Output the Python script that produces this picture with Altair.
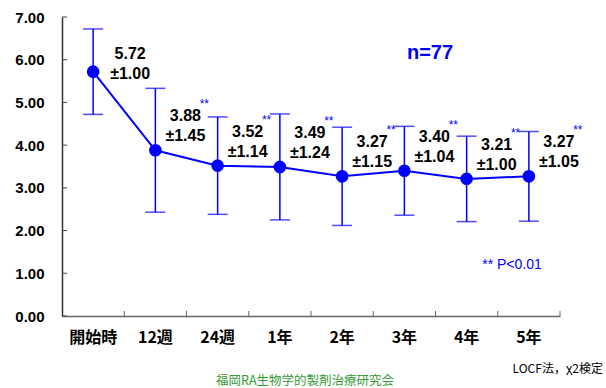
import altair as alt
import pandas as pd

categories = ["開始時", "12週", "24週", "1年", "2年", "3年", "4年", "5年"]
means = [5.72, 3.88, 3.52, 3.49, 3.27, 3.40, 3.21, 3.27]
sds = [1.00, 1.45, 1.14, 1.24, 1.15, 1.04, 1.00, 1.05]
significant = [False, True, True, True, True, True, True, True]
y_ticks = [0, 1, 2, 3, 4, 5, 6, 7]

df = pd.DataFrame({
    "cat": categories,
    "mean": means,
    "sd": sds,
    "sig": significant,
    "idx": list(range(len(categories))),
})
df["lo"] = df["mean"] - df["sd"]
df["hi"] = df["mean"] + df["sd"]
df["l1"] = df["mean"].map(lambda v: f"{v:.2f}")
df["l2"] = df["sd"].map(lambda v: f"±{v:.2f}")

BLUE = "#0000ff"
W, H = 498, 299
JP = "Noto Sans CJK JP"
NUM = "Liberation Sans"

x = alt.X("cat:N", sort=categories, scale=alt.Scale(paddingInner=0, paddingOuter=0),
          axis=alt.Axis(title=None, labelAngle=0, labelFont=JP, labelFontWeight="bold",
                        labelFontSize=16, labelColor="black", labelPadding=13,
                        ticks=False, domainColor="#666666", domainWidth=1.5))
yscale = alt.Scale(domain=[0, 7], nice=False)
y = alt.Y("mean:Q", scale=yscale,
          axis=alt.Axis(title=None, values=y_ticks, format=".2f", labelFont=NUM,
                        labelFontWeight="bold", labelFontSize=15, labelColor="black",
                        labelPadding=18, ticks=False, grid=False,
                        domainColor="#333333", domainWidth=1.5))

base = alt.Chart(df)

bars = base.mark_rule(color=BLUE, strokeWidth=1.5).encode(
    x=x, y=alt.Y("lo:Q", scale=yscale), y2="hi:Q")
cap_lo = base.mark_tick(color=BLUE, size=20, thickness=1.5, orient="horizontal").encode(
    x=alt.X("cat:N", sort=categories), y=alt.Y("lo:Q", scale=yscale))
cap_hi = base.mark_tick(color=BLUE, size=20, thickness=1.5, orient="horizontal").encode(
    x=alt.X("cat:N", sort=categories), y=alt.Y("hi:Q", scale=yscale))
line = base.mark_line(color=BLUE, strokeWidth=2).encode(x=x, y=y)
pts = base.mark_circle(color=BLUE, opacity=1, size=160).encode(x=x, y=y)

first = base.transform_filter("datum.idx == 0")
rest = base.transform_filter("datum.idx > 0")
tstyle = dict(font=NUM, fontWeight="bold", fontSize=16, color="black", baseline="middle", align="center")
lab1a = first.mark_text(dx=37, dy=-18, **tstyle).encode(x=x, y=y, text="l1:N")
lab1b = first.mark_text(dx=37, dy=2, **tstyle).encode(x=x, y=y, text="l2:N")
lab2a = rest.mark_text(dx=30, dy=-34, **tstyle).encode(x=x, y=y, text="l1:N")
lab2b = rest.mark_text(dx=30, dy=-14, **tstyle).encode(x=x, y=y, text="l2:N")
stars = rest.transform_filter("datum.sig").mark_text(
    dx=49, dy=-46, font=NUM, fontSize=12, color=BLUE, text="**").encode(x=x, y=y)

# inward ticks
ytick_df = pd.DataFrame({"v": y_ticks})
yticks = alt.Chart(ytick_df).mark_rule(color="#444444", strokeWidth=1).encode(
    y=alt.Y("v:Q", scale=yscale), x=alt.value(0), x2=alt.value(5))
xticks = base.mark_rule(color="#666666", strokeWidth=1).encode(
    x=alt.X("cat:N", sort=categories, bandPosition=1), y=alt.value(H), y2=alt.value(H - 5))

n_txt = alt.Chart(pd.DataFrame({"t": ["n=77"]})).mark_text(
    font=NUM, fontWeight="bold", fontSize=20, color=BLUE,
    align="center", baseline="middle").encode(
    text="t:N", x=alt.value(368), y=alt.value(36))
p_txt = alt.Chart(pd.DataFrame({"t": ["** P<0.01"]})).mark_text(
    font=NUM, fontSize=14, color=BLUE, align="center", baseline="middle").encode(
    text="t:N", x=alt.value(450), y=alt.value(248))
locf = alt.Chart(pd.DataFrame({"t": ["LOCF法，χ2検定"]})).mark_text(
    font=JP, fontSize=12, color="black", align="right", baseline="middle").encode(
    text="t:N", x=alt.value(541), y=alt.value(352))
org = alt.Chart(pd.DataFrame({"t": ["福岡RA生物学的製剤治療研究会"]})).mark_text(
    font=JP, fontSize=12.5, color="#339933", align="center", baseline="middle").encode(
    text="t:N", x=alt.value(243), y=alt.value(364))

chart = alt.layer(bars, cap_lo, cap_hi, line, pts, lab1a, lab1b, lab2a, lab2b, stars,
                  yticks, xticks, n_txt, p_txt, locf, org).properties(
    width=W, height=H,
    autosize=alt.AutoSizeParams(type="none"),
    padding={"left": 62, "top": 17, "right": 46, "bottom": 72},
    background="white",
).configure_view(stroke=None)

chart.save("out.html", embed_options={"renderer": "svg", "actions": False})
